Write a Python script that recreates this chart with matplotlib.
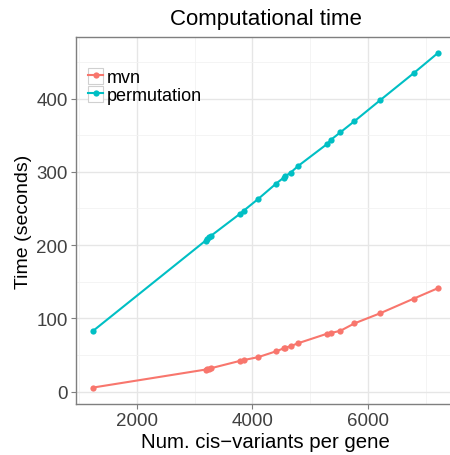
import matplotlib
matplotlib.use("Agg")
import matplotlib.pyplot as plt
from matplotlib.ticker import MultipleLocator
from matplotlib.legend_handler import HandlerLine2D
from matplotlib.patches import Rectangle

plt.rcParams['font.family'] = ['Liberation Sans', 'DejaVu Sans']

# data
n_variants = [1250, 3190, 3220, 3250, 3290, 3790, 3850, 4100, 4410, 4540,
              4570, 4660, 4790, 5290, 5360, 5520, 5760, 6210, 6790, 7200]
mvn_time = [5.5, 30, 30.5, 31, 32, 42, 43, 47, 55, 59,
            60, 62, 66, 79, 80, 83, 93, 107, 127, 141]
perm_time = [83, 206, 208, 211, 213, 243, 247, 263, 284, 292,
             294, 299, 308, 338, 344, 354, 369, 398, 435, 462]
series_names = ["mvn", "permutation"]
colors = ["#F8766D", "#00BFC4"]


class BoxedKey(HandlerLine2D):
    # ggplot-like legend key: line in a small grey-bordered box
    def create_artists(self, legend, orig_handle, xdescent, ydescent,
                       width, height, fontsize, trans):
        box = Rectangle((-xdescent, -ydescent), width, height,
                        facecolor='white', edgecolor='#d0d0d0', lw=0.8,
                        transform=trans)
        arts = super().create_artists(legend, orig_handle, xdescent, ydescent,
                                      width, height, fontsize, trans)
        return [box] + arts


fig = plt.figure(figsize=(4.5, 4.56), dpi=100)
W, H = 450, 456
ax = fig.add_axes([76 / W, (H - 405) / H, (455 - 76) / W, (405 - 38) / H])

for name, ys, c in zip(series_names, [mvn_time, perm_time], colors):
    ax.plot(n_variants, ys, color=c, lw=1.5, marker='o', ms=4.5,
            markeredgewidth=0, label=name, zorder=3)

ax.set_xlim(952, 7498)
ax.set_ylim(-17, 484)
ax.xaxis.set_major_locator(MultipleLocator(2000))
ax.xaxis.set_minor_locator(MultipleLocator(1000))
ax.yaxis.set_major_locator(MultipleLocator(100))
ax.yaxis.set_minor_locator(MultipleLocator(50))
ax.grid(which='major', color='#e6e6e6', lw=1.0, zorder=0)
ax.grid(which='minor', color='#f2f2f2', lw=0.6, zorder=0)
ax.set_axisbelow(True)

for s in ax.spines.values():
    s.set_color('#7f7f7f')
    s.set_linewidth(1.0)
ax.tick_params(which='major', length=3.5, color='#7f7f7f', labelsize=13.5,
               labelcolor='#404040', pad=2.5)
ax.tick_params(which='minor', length=0)

ax.set_xlabel("Num. cis\u2212variants per gene", fontsize=14.7, labelpad=2)
ax.set_ylabel("Time (seconds)", fontsize=14, labelpad=3)
ax.set_title("Computational time", fontsize=16, pad=9)

leg = ax.legend(loc='upper left', bbox_to_anchor=(0.032, 0.915), fontsize=13,
                frameon=False, handlelength=0.85, handleheight=0.95,
                handletextpad=0.2, borderpad=0.0, labelspacing=0.0,
                borderaxespad=0, handler_map={plt.Line2D: BoxedKey()})

fig.savefig("out.png", dpi=100)
